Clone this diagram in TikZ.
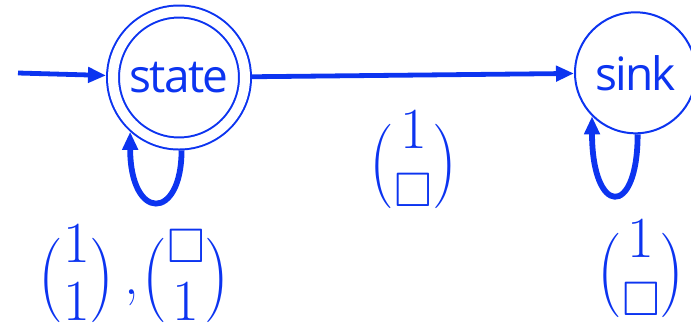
\documentclass[tikz,border=0pt]{standalone}
\usepackage{amssymb}
\usepackage{graphicx}
\usepackage{fontspec}
\newfontfamily\statefont[LetterSpace=-4]{Open Sans}
\usetikzlibrary{arrows.meta}
\definecolor{autblue}{RGB}{12,52,240}
% column vector with tall thin brackets
\newcommand\colvec[2]{%
  $\vcenter{\hbox{\scalebox{1.2}[1.45]{$($}}}
  \vcenter{\hbox{\raisebox{-3pt}{\begin{tabular}{@{}c@{}}$#1$\\$#2$\end{tabular}}}}
  \vcenter{\hbox{\scalebox{1.2}[1.45]{$)$}}}$}
\newcommand\blank{\scriptstyle\square}
% CM math stops at 24.88pt, so labels are blown up afterwards
\newcommand\lbltext[1]{\scalebox{1.17}{#1}}

\begin{document}
\begin{tikzpicture}[x=0.5pt, y=-0.5pt,
  st/.style={circle, draw=autblue, line width=1pt, inner sep=0pt,
    minimum size=60.5pt, text=autblue,
    font=\statefont\fontsize{23}{28}\selectfont},
  acc/.style={st, double, double distance=5pt, minimum size=66pt,
    outer sep=3.5pt},
  trans/.style={draw=autblue, line width=2.4pt,
    -{Triangle[length=9pt,width=7.5pt]}},
  selfloop/.style={trans, line width=2.9pt},
  lbl/.style={text=autblue, inner sep=0pt,
    font=\fontsize{24.88}{24.88}\selectfont}]
\useasboundingbox (0,0) rectangle (691,328);

\node[acc] (state) at (179,77.5) {state};
\node[st] (sink) at (635.5,72.8) {sink};
\coordinate (entry) at (18,73);

\draw[trans] (entry) -- (state);
\draw[trans] (state) -- (sink);
\draw[selfloop] (state.-88) .. controls +(0,71) and +(0,90) .. (state.228);
\draw[selfloop] (sink.-88) .. controls +(0,85) and +(0,100) .. (sink.225);

\node[lbl] (lstate) at (134,280) {\lbltext{\colvec{1}{1}\,,\hspace{1.5pt}\colvec{\blank}{1}}};
\node[lbl] (lmove) at (413.5,166) {\lbltext{\colvec{1}{\blank}}};
\node[lbl] (lsink) at (641,275) {\lbltext{\colvec{1}{\blank}}};
\end{tikzpicture}
\end{document}
